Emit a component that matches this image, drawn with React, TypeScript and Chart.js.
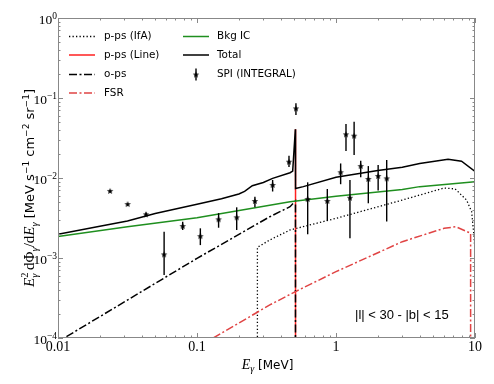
import React, { useEffect, useRef } from 'react';
import { Chart, registerables } from 'chart.js';
Chart.register(...registerables);

// ---- SPI (INTEGRAL) data ----
const spiE = [0.0237, 0.0317, 0.043, 0.058, 0.0789, 0.1057, 0.143, 0.193, 0.261, 0.35, 0.459, 0.515, 0.6255, 0.866, 1.08, 1.18, 1.26, 1.35, 1.506, 1.708, 2.01, 2.316];
const spiFlux = [0.0069, 0.00473, 0.00352, 0.00111, 0.00251, 0.00188, 0.00305, 0.00323, 0.00516, 0.00818, 0.016, 0.0743, 0.00546, 0.00516, 0.0118, 0.0352, 0.00567, 0.0338, 0.0141, 0.00972, 0.0106, 0.0099];
const spiLo = [0.0069, 0.00473, 0.0033, 0.000613, 0.00224, 0.00145, 0.00239, 0.00224, 0.0043, 0.00678, 0.0137, 0.0613, 0.00198, 0.00293, 0.00836, 0.0218, 0.00176, 0.0194, 0.0102, 0.00483, 0.00699, 0.00286];
const spiHi = [0.0069, 0.00473, 0.0037, 0.00213, 0.00284, 0.00235, 0.00364, 0.0043, 0.00581, 0.00944, 0.019, 0.0857, 0.00883, 0.00729, 0.0152, 0.0472, 0.00944, 0.0506, 0.0164, 0.0141, 0.0145, 0.0168];

// ---- model curves ----
const ifaE = [0.272, 0.272, 0.334, 0.467, 1, 3, 6, 7.2, 8.7, 9.46, 9.84, 10];
const ifaF = [1e-6, 0.00136, 0.00168, 0.00224, 0.00313, 0.0053, 0.0075, 0.0073, 0.0053, 0.0038, 0.00185, 0.0012];

const lineE = [0.5115, 0.5115];
const lineF = [1e-6, 0.0406];

const opsE = [0.0115, 0.1, 0.334, 0.467, 0.511, 0.5112];
const opsF = [1.04e-4, 0.00099, 0.00328, 0.00438, 0.00516, 1e-6];

const fsrE = [0.131, 0.334, 0.511, 1, 3, 6, 7.3, 9.3, 9.3001];
const fsrF = [1e-4, 0.000259, 0.00038, 0.000675, 0.0016, 0.00235, 0.00246, 0.00204, 1e-6];

const icE = [0.01, 0.0316, 0.1, 0.467, 1, 3, 4, 10];
const icF = [0.00185, 0.00245, 0.00318, 0.00506, 0.0059, 0.0072, 0.0078, 0.009];

const totE = [0.01, 0.02, 0.0316, 0.05, 0.1, 0.15, 0.2, 0.22, 0.25, 0.3, 0.35, 0.467, 0.488, 0.51, 0.5115, 0.582, 1, 2, 3, 4, 6.4, 8, 10];
const totF = [0.00198, 0.0025, 0.0029, 0.0036, 0.0047, 0.0055, 0.0063, 0.0068, 0.008, 0.0088, 0.0099, 0.01165, 0.0122, 0.0406, 0.0074, 0.0078, 0.0102, 0.0124, 0.0136, 0.0152, 0.0171, 0.0162, 0.0121];

const xTickVals = [0.01, 0.1, 1, 10];
const xTickLabels = ['0.01', '0.1', '1', '10'];
const yTickExp = [0, -1, -2, -3, -4];

const pts = (xs: number[], ys: number[]) => xs.map((x, i) => ({ x, y: ys[i] }));

const GRAY = '#888888';
const GREEN = '#1f8f1f';
const RED = '#ff2020';
const FSRRED = '#e04444';
const DOT = [1.3, 2.2];
const DASHDOT = [8, 2.5, 2, 2.5];

function makeStar(): HTMLCanvasElement {
  const c = document.createElement('canvas');
  c.width = 8; c.height = 8;
  const g = c.getContext('2d')!;
  g.fillStyle = '#000';
  g.beginPath();
  for (let i = 0; i < 10; i++) {
    const r = i % 2 === 0 ? 3.4 : 1.45;
    const a = -Math.PI / 2 + (i * Math.PI) / 5;
    const px = 4 + r * Math.cos(a), py = 4.3 + r * Math.sin(a);
    if (i === 0) g.moveTo(px, py); else g.lineTo(px, py);
  }
  g.closePath();
  g.fill();
  return c;
}

type Seg = { t: string; f: string; dy?: number; noAdv?: boolean };

function drawRich(ctx: CanvasRenderingContext2D, segs: Seg[], x: number, y: number, rot: number, color: string) {
  ctx.save();
  ctx.translate(x, y);
  ctx.rotate(rot);
  ctx.fillStyle = color;
  ctx.textBaseline = 'alphabetic';
  ctx.textAlign = 'left';
  let w = 0;
  for (const s of segs) { ctx.font = s.f; if (!s.noAdv) w += ctx.measureText(s.t).width; }
  let cx = -w / 2;
  for (const s of segs) {
    ctx.font = s.f;
    ctx.fillText(s.t, cx, s.dy || 0);
    if (!s.noAdv) cx += ctx.measureText(s.t).width;
  }
  ctx.restore();
}

let starImg: HTMLCanvasElement | null = null;

const decor = {
  id: 'decor',
  afterDatasetsDraw(chart: any) {
    const ctx: CanvasRenderingContext2D = chart.ctx;
    const xs = chart.scales.x, ys = chart.scales.y;
    const a = chart.chartArea;
    ctx.save();
    ctx.beginPath();
    ctx.rect(a.left, a.top, a.right - a.left, a.bottom - a.top);
    ctx.clip();
    ctx.strokeStyle = '#000';
    ctx.lineWidth = 1.4;
    for (let i = 0; i < spiE.length; i++) {
      if (spiHi[i] === spiLo[i]) continue;
      const px = xs.getPixelForValue(spiE[i]);
      ctx.beginPath();
      ctx.moveTo(px, ys.getPixelForValue(spiLo[i]));
      ctx.lineTo(px, ys.getPixelForValue(spiHi[i]));
      ctx.stroke();
    }
    ctx.restore();
  },
  afterDraw(chart: any) {
    const ctx: CanvasRenderingContext2D = chart.ctx;
    const xs = chart.scales.x, ys = chart.scales.y;
    const a = chart.chartArea;
    ctx.save();
    // frame
    ctx.strokeStyle = GRAY;
    ctx.lineWidth = 1;
    ctx.strokeRect(a.left + 0.5, a.top + 0.5, a.right - a.left - 1, a.bottom - a.top - 1);
    // ticks
    const maj = 5, min = 2.5;
    ctx.beginPath();
    for (let d = -2; d <= 1; d++) {
      for (let k = 1; k <= 9; k++) {
        const v = k * Math.pow(10, d);
        if (v > 10.0001) break;
        const px = Math.round(xs.getPixelForValue(v)) + 0.5;
        const L = k === 1 ? maj : min;
        ctx.moveTo(px, a.bottom); ctx.lineTo(px, a.bottom - L);
        ctx.moveTo(px, a.top); ctx.lineTo(px, a.top + L);
      }
    }
    for (let d = -4; d <= 0; d++) {
      for (let k = 1; k <= 9; k++) {
        const v = k * Math.pow(10, d);
        if (v > 1.0001) break;
        const py = Math.round(ys.getPixelForValue(v)) + 0.5;
        const L = k === 1 ? maj : min;
        ctx.moveTo(a.left, py); ctx.lineTo(a.left + L, py);
        ctx.moveTo(a.right, py); ctx.lineTo(a.right - L, py);
      }
    }
    ctx.stroke();

    // x tick labels
    ctx.fillStyle = '#000';
    ctx.font = '14px "Liberation Serif"';
    ctx.textAlign = 'center';
    ctx.textBaseline = 'alphabetic';
    xTickVals.forEach((v, i) => {
      ctx.fillText(xTickLabels[i], xs.getPixelForValue(v), 351);
    });
    // y tick labels
    yTickExp.forEach((e) => {
      const py = ys.getPixelForValue(Math.pow(10, e));
      const sup = e === 0 ? '0' : '\u2212' + String(-e);
      ctx.font = '9.5px "Liberation Serif"';
      const ws = ctx.measureText(sup).width;
      ctx.font = '13.5px "Liberation Serif"';
      const wb = ctx.measureText('10').width;
      const right = a.left - 1;
      ctx.textAlign = 'left';
      ctx.fillText('10', right - ws - wb, py + 5.5);
      ctx.font = '9.5px "Liberation Serif"';
      ctx.fillText(sup, right - ws, py + 0.5);
    });

    // axis titles
    const IT = 'italic 14px "Liberation Serif"';
    const SUBI = 'italic 10px "Liberation Serif"';
    drawRich(ctx, [
      { t: 'E', f: IT },
      { t: 'γ', f: SUBI, dy: 3 },
      { t: ' [MeV]', f: '12px "DejaVu Sans"' },
    ], (a.left + a.right) / 2 + 1, 368.5, 0, '#000');

    const MI = 'italic 15px "Liberation Serif"';
    const MR = '15px "Liberation Serif"';
    const MS = '10.5px "Liberation Serif"';
    const MSI = 'italic 10.5px "Liberation Serif"';
    const SS = '13px "DejaVu Sans"';
    const SP = '9px "DejaVu Sans"';
    drawRich(ctx, [
      { t: 'E', f: MI },
      { t: '2', f: MS, dy: -6, noAdv: true },
      { t: 'γ', f: MSI, dy: 3.5 },
      { t: ' d', f: MR },
      { t: 'Φ', f: MR },
      { t: 'γ', f: MSI, dy: 3.5 },
      { t: '/d', f: MR },
      { t: 'E', f: MI },
      { t: 'γ', f: MSI, dy: 3.5 },
      { t: ' [MeV s', f: SS },
      { t: '\u22121', f: SP, dy: -5.5 },
      { t: ' cm', f: SS },
      { t: '\u22122', f: SP, dy: -5.5 },
      { t: ' sr', f: SS },
      { t: '\u22121', f: SP, dy: -5.5 },
      { t: ']', f: SS },
    ], 34, 188, -Math.PI / 2, '#000');

    // annotation
    ctx.fillStyle = '#000';
    ctx.font = '13px "Liberation Sans"';
    ctx.textAlign = 'left';
    ctx.textBaseline = 'middle';
    ctx.fillText('|l| < 30 - |b| < 15', 355, 315);

    // legend
    const rows = [36.5, 55, 74.5, 93];
    const lx0 = 69, lx1 = 95, tx = 104;
    const rx0 = 183, rx1 = 209, rtx = 217;
    const seg = (x0: number, x1: number, y: number, color: string, dash: number[], w: number) => {
      ctx.save();
      ctx.strokeStyle = color; ctx.lineWidth = w; ctx.setLineDash(dash);
      ctx.beginPath(); ctx.moveTo(x0, y); ctx.lineTo(x1, y); ctx.stroke();
      ctx.restore();
    };
    seg(lx0, lx1, rows[0], '#000', DOT, 1.3);
    seg(lx0, lx1, rows[1], RED, [], 1.5);
    seg(lx0, lx1, rows[2], '#000', DASHDOT, 1.5);
    seg(lx0, lx1, rows[3], FSRRED, DASHDOT, 1.5);
    seg(rx0, rx1, rows[0], GREEN, [], 1.5);
    seg(rx0, rx1, rows[1], '#000', [], 1.5);
    // SPI legend marker
    const mx = (rx0 + rx1) / 2;
    ctx.strokeStyle = '#000'; ctx.lineWidth = 1.4; ctx.setLineDash([]);
    ctx.beginPath(); ctx.moveTo(mx, rows[2] - 6); ctx.lineTo(mx, rows[2] + 6); ctx.stroke();
    ctx.drawImage(starImg!, mx - 4, rows[2] - 4);
    ctx.fillStyle = '#000';
    ctx.font = '10.4px "DejaVu Sans"';
    ctx.textBaseline = 'middle';
    ctx.textAlign = 'left';
    ['p-ps (IfA)', 'p-ps (Line)', 'o-ps', 'FSR'].forEach((t, i) => ctx.fillText(t, tx, rows[i]));
    ['Bkg IC', 'Total', 'SPI (INTEGRAL)'].forEach((t, i) => ctx.fillText(t, rtx, rows[i]));
    ctx.restore();
  },
};

export default function App() {
  const ref = useRef<HTMLCanvasElement>(null);
  useEffect(() => {
    if (!ref.current) return;
    starImg = makeStar();
    const base = { fill: false, pointRadius: 0, tension: 0, borderWidth: 1.5, parsing: false as any };
    const chart = new Chart(ref.current, {
      type: 'line',
      data: {
        datasets: [
          { ...base, label: 'p-ps (IfA)', data: pts(ifaE, ifaF), borderColor: '#000', borderDash: DOT, borderWidth: 1.3, order: 6 },
          { ...base, label: 'p-ps (Line)', data: pts(lineE, lineF), borderColor: RED, order: 5 },
          { ...base, label: 'o-ps', data: pts(opsE, opsF), borderColor: '#000', borderDash: DASHDOT, order: 4 },
          { ...base, label: 'FSR', data: pts(fsrE, fsrF), borderColor: FSRRED, borderDash: DASHDOT, order: 3 },
          { ...base, label: 'Bkg IC', data: pts(icE, icF), borderColor: GREEN, order: 2 },
          { ...base, label: 'Total', data: pts(totE, totF), borderColor: '#000', order: 1 },
          {
            type: 'scatter' as any, label: 'SPI (INTEGRAL)', data: pts(spiE, spiFlux), showLine: false,
            pointStyle: starImg as any, pointRadius: 3.5, borderColor: '#000', backgroundColor: '#000', order: 0,
          } as any,
        ],
      },
      options: {
        animation: false,
        responsive: false,
        maintainAspectRatio: false,
        layout: { padding: { left: 58, top: 18, right: 19, bottom: 46 } },
        plugins: { legend: { display: false }, tooltip: { enabled: false } },
        scales: {
          x: { type: 'logarithmic', min: 0.01, max: 10, display: false },
          y: { type: 'logarithmic', min: 1e-4, max: 1, display: false },
        },
      },
      plugins: [decor],
    });
    return () => chart.destroy();
  }, []);
  return (
    <div style={{ position: 'absolute', left: 0, top: 0, width: 494, height: 384, background: '#fff' }}>
      <canvas ref={ref} width={494} height={384} style={{ display: 'block' }} />
    </div>
  );
}
